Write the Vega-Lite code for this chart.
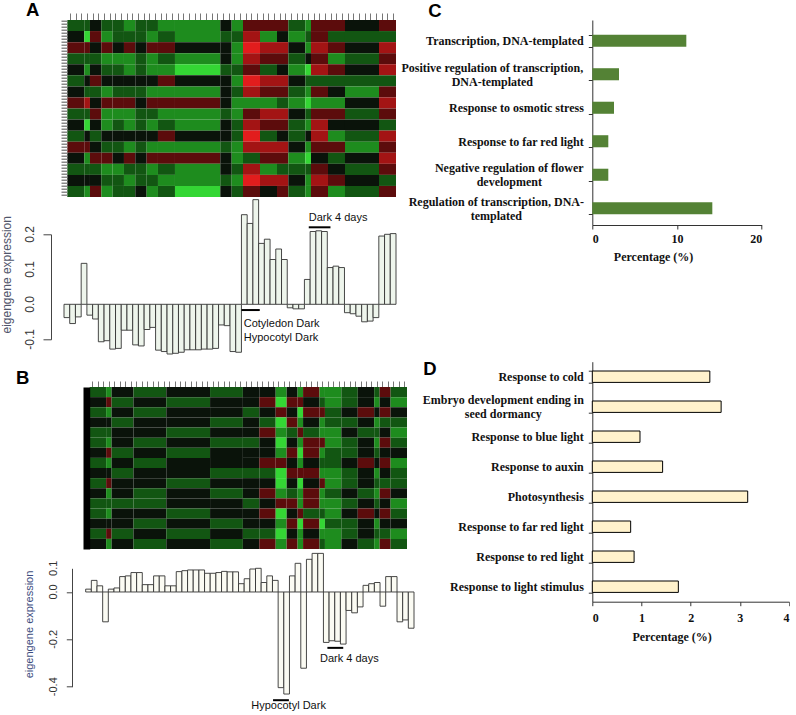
{
"$schema":"https://vega.github.io/schema/vega-lite/v6.json",
"background":"white",
"padding":{"left":0,"top":1,"right":0,"bottom":0},
"config":{"view":{"stroke":null},"axis":{"grid":false},"font":"Liberation Sans"},
"datasets":{
"ah":[
{"a":0,"b":3,"r":0,"v":-1},{"a":0,"b":3,"r":1,"v":0},{"a":0,"b":3,"r":2,"v":1},{"a":0,"b":3,"r":3,"v":-1},{"a":0,"b":3,"r":4,"v":0},{"a":0,"b":3,"r":5,"v":-1},{"a":0,"b":3,"r":6,"v":0},{"a":0,"b":3,"r":7,"v":1},{"a":0,"b":3,"r":8,"v":-1},{"a":0,"b":3,"r":9,"v":0},{"a":0,"b":3,"r":10,"v":-1},{"a":0,"b":3,"r":11,"v":1},{"a":0,"b":3,"r":12,"v":0},{"a":0,"b":3,"r":13,"v":-1},{"a":0,"b":3,"r":14,"v":0},{"a":0,"b":3,"r":15,"v":-1},
{"a":3,"b":4,"r":0,"v":-1},{"a":3,"b":4,"r":1,"v":-3},{"a":3,"b":4,"r":2,"v":1},{"a":3,"b":4,"r":3,"v":-1},{"a":3,"b":4,"r":4,"v":-2},{"a":3,"b":4,"r":5,"v":0},{"a":3,"b":4,"r":6,"v":-1},{"a":3,"b":4,"r":7,"v":2},{"a":3,"b":4,"r":8,"v":-1},{"a":3,"b":4,"r":9,"v":-3},{"a":3,"b":4,"r":10,"v":0},{"a":3,"b":4,"r":11,"v":1},{"a":3,"b":4,"r":12,"v":-2},{"a":3,"b":4,"r":13,"v":-1},{"a":3,"b":4,"r":14,"v":0},{"a":3,"b":4,"r":15,"v":-2},
{"a":4,"b":6,"r":0,"v":0},{"a":4,"b":6,"r":1,"v":1},{"a":4,"b":6,"r":2,"v":0},{"a":4,"b":6,"r":3,"v":-1},{"a":4,"b":6,"r":4,"v":0},{"a":4,"b":6,"r":5,"v":1},{"a":4,"b":6,"r":6,"v":-1},{"a":4,"b":6,"r":7,"v":0},{"a":4,"b":6,"r":8,"v":1},{"a":4,"b":6,"r":9,"v":0},{"a":4,"b":6,"r":10,"v":-1},{"a":4,"b":6,"r":11,"v":0},{"a":4,"b":6,"r":12,"v":1},{"a":4,"b":6,"r":13,"v":-1},{"a":4,"b":6,"r":14,"v":0},{"a":4,"b":6,"r":15,"v":1},
{"a":6,"b":8,"r":0,"v":-1},{"a":6,"b":8,"r":1,"v":-2},{"a":6,"b":8,"r":2,"v":1},{"a":6,"b":8,"r":3,"v":-2},{"a":6,"b":8,"r":4,"v":-1},{"a":6,"b":8,"r":5,"v":0},{"a":6,"b":8,"r":6,"v":-2},{"a":6,"b":8,"r":7,"v":1},{"a":6,"b":8,"r":8,"v":-2},{"a":6,"b":8,"r":9,"v":-2},{"a":6,"b":8,"r":10,"v":0},{"a":6,"b":8,"r":11,"v":-1},{"a":6,"b":8,"r":12,"v":1},{"a":6,"b":8,"r":13,"v":-2},{"a":6,"b":8,"r":14,"v":-1},{"a":6,"b":8,"r":15,"v":-2},
{"a":8,"b":10,"r":0,"v":-1},{"a":8,"b":10,"r":1,"v":-1},{"a":8,"b":10,"r":2,"v":0},{"a":8,"b":10,"r":3,"v":-2},{"a":8,"b":10,"r":4,"v":-1},{"a":8,"b":10,"r":5,"v":0},{"a":8,"b":10,"r":6,"v":-1},{"a":8,"b":10,"r":7,"v":1},{"a":8,"b":10,"r":8,"v":-2},{"a":8,"b":10,"r":9,"v":-1},{"a":8,"b":10,"r":10,"v":0},{"a":8,"b":10,"r":11,"v":-1},{"a":8,"b":10,"r":12,"v":0},{"a":8,"b":10,"r":13,"v":-2},{"a":8,"b":10,"r":14,"v":-1},{"a":8,"b":10,"r":15,"v":-1},
{"a":10,"b":12,"r":0,"v":-2},{"a":10,"b":12,"r":1,"v":-1},{"a":10,"b":12,"r":2,"v":1},{"a":10,"b":12,"r":3,"v":-2},{"a":10,"b":12,"r":4,"v":-2},{"a":10,"b":12,"r":5,"v":0},{"a":10,"b":12,"r":6,"v":-1},{"a":10,"b":12,"r":7,"v":1},{"a":10,"b":12,"r":8,"v":-2},{"a":10,"b":12,"r":9,"v":-2},{"a":10,"b":12,"r":10,"v":0},{"a":10,"b":12,"r":11,"v":-2},{"a":10,"b":12,"r":12,"v":1},{"a":10,"b":12,"r":13,"v":-1},{"a":10,"b":12,"r":14,"v":-2},{"a":10,"b":12,"r":15,"v":-1},
{"a":12,"b":14,"r":0,"v":-1},{"a":12,"b":14,"r":1,"v":-1},{"a":12,"b":14,"r":2,"v":0},{"a":12,"b":14,"r":3,"v":-1},{"a":12,"b":14,"r":4,"v":-1},{"a":12,"b":14,"r":5,"v":0},{"a":12,"b":14,"r":6,"v":-1},{"a":12,"b":14,"r":7,"v":0},{"a":12,"b":14,"r":8,"v":-1},{"a":12,"b":14,"r":9,"v":-1},{"a":12,"b":14,"r":10,"v":0},{"a":12,"b":14,"r":11,"v":-1},{"a":12,"b":14,"r":12,"v":0},{"a":12,"b":14,"r":13,"v":-1},{"a":12,"b":14,"r":14,"v":-1},{"a":12,"b":14,"r":15,"v":0},
{"a":14,"b":16,"r":0,"v":-1},{"a":14,"b":16,"r":1,"v":-2},{"a":14,"b":16,"r":2,"v":1},{"a":14,"b":16,"r":3,"v":-2},{"a":14,"b":16,"r":4,"v":-2},{"a":14,"b":16,"r":5,"v":0},{"a":14,"b":16,"r":6,"v":-2},{"a":14,"b":16,"r":7,"v":1},{"a":14,"b":16,"r":8,"v":-1},{"a":14,"b":16,"r":9,"v":-2},{"a":14,"b":16,"r":10,"v":0},{"a":14,"b":16,"r":11,"v":-2},{"a":14,"b":16,"r":12,"v":1},{"a":14,"b":16,"r":13,"v":-2},{"a":14,"b":16,"r":14,"v":-1},{"a":14,"b":16,"r":15,"v":-2},
{"a":16,"b":19,"r":0,"v":-2},{"a":16,"b":19,"r":1,"v":-1},{"a":16,"b":19,"r":2,"v":1},{"a":16,"b":19,"r":3,"v":-1},{"a":16,"b":19,"r":4,"v":-2},{"a":16,"b":19,"r":5,"v":1},{"a":16,"b":19,"r":6,"v":-2},{"a":16,"b":19,"r":7,"v":1},{"a":16,"b":19,"r":8,"v":-2},{"a":16,"b":19,"r":9,"v":-1},{"a":16,"b":19,"r":10,"v":1},{"a":16,"b":19,"r":11,"v":-2},{"a":16,"b":19,"r":12,"v":1},{"a":16,"b":19,"r":13,"v":-1},{"a":16,"b":19,"r":14,"v":-2},{"a":16,"b":19,"r":15,"v":-1},
{"a":19,"b":27,"r":0,"v":-2},{"a":19,"b":27,"r":1,"v":-2},{"a":19,"b":27,"r":2,"v":0},{"a":19,"b":27,"r":3,"v":-2},{"a":19,"b":27,"r":4,"v":-3},{"a":19,"b":27,"r":5,"v":0},{"a":19,"b":27,"r":6,"v":-2},{"a":19,"b":27,"r":7,"v":1},{"a":19,"b":27,"r":8,"v":-2},{"a":19,"b":27,"r":9,"v":-2},{"a":19,"b":27,"r":10,"v":0},{"a":19,"b":27,"r":11,"v":-2},{"a":19,"b":27,"r":12,"v":1},{"a":19,"b":27,"r":13,"v":-2},{"a":19,"b":27,"r":14,"v":-2},{"a":19,"b":27,"r":15,"v":-3},
{"a":27,"b":29,"r":0,"v":0},{"a":27,"b":29,"r":1,"v":-1},{"a":27,"b":29,"r":2,"v":0},{"a":27,"b":29,"r":3,"v":0},{"a":27,"b":29,"r":4,"v":-1},{"a":27,"b":29,"r":5,"v":0},{"a":27,"b":29,"r":6,"v":0},{"a":27,"b":29,"r":7,"v":0},{"a":27,"b":29,"r":8,"v":-1},{"a":27,"b":29,"r":9,"v":0},{"a":27,"b":29,"r":10,"v":0},{"a":27,"b":29,"r":11,"v":-1},{"a":27,"b":29,"r":12,"v":0},{"a":27,"b":29,"r":13,"v":0},{"a":27,"b":29,"r":14,"v":-1},{"a":27,"b":29,"r":15,"v":0},
{"a":29,"b":31,"r":0,"v":-2},{"a":29,"b":31,"r":1,"v":-1},{"a":29,"b":31,"r":2,"v":-2},{"a":29,"b":31,"r":3,"v":-2},{"a":29,"b":31,"r":4,"v":-1},{"a":29,"b":31,"r":5,"v":-2},{"a":29,"b":31,"r":6,"v":-1},{"a":29,"b":31,"r":7,"v":-2},{"a":29,"b":31,"r":8,"v":-2},{"a":29,"b":31,"r":9,"v":-1},{"a":29,"b":31,"r":10,"v":-1},{"a":29,"b":31,"r":11,"v":-2},{"a":29,"b":31,"r":12,"v":-2},{"a":29,"b":31,"r":13,"v":-1},{"a":29,"b":31,"r":14,"v":-2},{"a":29,"b":31,"r":15,"v":-1},
{"a":31,"b":34,"r":0,"v":1},{"a":31,"b":34,"r":1,"v":2},{"a":31,"b":34,"r":2,"v":3},{"a":31,"b":34,"r":3,"v":2},{"a":31,"b":34,"r":4,"v":1},{"a":31,"b":34,"r":5,"v":3},{"a":31,"b":34,"r":6,"v":2},{"a":31,"b":34,"r":7,"v":-2},{"a":31,"b":34,"r":8,"v":1},{"a":31,"b":34,"r":9,"v":2},{"a":31,"b":34,"r":10,"v":3},{"a":31,"b":34,"r":11,"v":2},{"a":31,"b":34,"r":12,"v":-1},{"a":31,"b":34,"r":13,"v":2},{"a":31,"b":34,"r":14,"v":3},{"a":31,"b":34,"r":15,"v":1},
{"a":34,"b":37,"r":0,"v":1},{"a":34,"b":37,"r":1,"v":-2},{"a":34,"b":37,"r":2,"v":2},{"a":34,"b":37,"r":3,"v":1},{"a":34,"b":37,"r":4,"v":-1},{"a":34,"b":37,"r":5,"v":2},{"a":34,"b":37,"r":6,"v":1},{"a":34,"b":37,"r":7,"v":-2},{"a":34,"b":37,"r":8,"v":2},{"a":34,"b":37,"r":9,"v":1},{"a":34,"b":37,"r":10,"v":-1},{"a":34,"b":37,"r":11,"v":2},{"a":34,"b":37,"r":12,"v":1},{"a":34,"b":37,"r":13,"v":-2},{"a":34,"b":37,"r":14,"v":2},{"a":34,"b":37,"r":15,"v":0},
{"a":37,"b":39,"r":0,"v":1},{"a":37,"b":39,"r":1,"v":0},{"a":37,"b":39,"r":2,"v":2},{"a":37,"b":39,"r":3,"v":1},{"a":37,"b":39,"r":4,"v":0},{"a":37,"b":39,"r":5,"v":2},{"a":37,"b":39,"r":6,"v":1},{"a":37,"b":39,"r":7,"v":-1},{"a":37,"b":39,"r":8,"v":2},{"a":37,"b":39,"r":9,"v":1},{"a":37,"b":39,"r":10,"v":0},{"a":37,"b":39,"r":11,"v":2},{"a":37,"b":39,"r":12,"v":1},{"a":37,"b":39,"r":13,"v":-1},{"a":37,"b":39,"r":14,"v":2},{"a":37,"b":39,"r":15,"v":1},
{"a":39,"b":42,"r":0,"v":-1},{"a":39,"b":42,"r":1,"v":-2},{"a":39,"b":42,"r":2,"v":0},{"a":39,"b":42,"r":3,"v":-1},{"a":39,"b":42,"r":4,"v":-2},{"a":39,"b":42,"r":5,"v":0},{"a":39,"b":42,"r":6,"v":-1},{"a":39,"b":42,"r":7,"v":-2},{"a":39,"b":42,"r":8,"v":0},{"a":39,"b":42,"r":9,"v":-1},{"a":39,"b":42,"r":10,"v":-1},{"a":39,"b":42,"r":11,"v":0},{"a":39,"b":42,"r":12,"v":-2},{"a":39,"b":42,"r":13,"v":-1},{"a":39,"b":42,"r":14,"v":0},{"a":39,"b":42,"r":15,"v":-1},
{"a":42,"b":43,"r":0,"v":-2},{"a":42,"b":43,"r":1,"v":-1},{"a":42,"b":43,"r":2,"v":-2},{"a":42,"b":43,"r":3,"v":0},{"a":42,"b":43,"r":4,"v":-3},{"a":42,"b":43,"r":5,"v":-1},{"a":42,"b":43,"r":6,"v":-2},{"a":42,"b":43,"r":7,"v":-3},{"a":42,"b":43,"r":8,"v":-1},{"a":42,"b":43,"r":9,"v":-2},{"a":42,"b":43,"r":10,"v":0},{"a":42,"b":43,"r":11,"v":-2},{"a":42,"b":43,"r":12,"v":-3},{"a":42,"b":43,"r":13,"v":-1},{"a":42,"b":43,"r":14,"v":-2},{"a":42,"b":43,"r":15,"v":-2},
{"a":43,"b":46,"r":0,"v":1},{"a":43,"b":46,"r":1,"v":1},{"a":43,"b":46,"r":2,"v":2},{"a":43,"b":46,"r":3,"v":1},{"a":43,"b":46,"r":4,"v":2},{"a":43,"b":46,"r":5,"v":-1},{"a":43,"b":46,"r":6,"v":1},{"a":43,"b":46,"r":7,"v":-2},{"a":43,"b":46,"r":8,"v":1},{"a":43,"b":46,"r":9,"v":2},{"a":43,"b":46,"r":10,"v":2},{"a":43,"b":46,"r":11,"v":1},{"a":43,"b":46,"r":12,"v":0},{"a":43,"b":46,"r":13,"v":1},{"a":43,"b":46,"r":14,"v":2},{"a":43,"b":46,"r":15,"v":1},
{"a":46,"b":49,"r":0,"v":1},{"a":46,"b":49,"r":1,"v":-1},{"a":46,"b":49,"r":2,"v":1},{"a":46,"b":49,"r":3,"v":-2},{"a":46,"b":49,"r":4,"v":1},{"a":46,"b":49,"r":5,"v":-1},{"a":46,"b":49,"r":6,"v":0},{"a":46,"b":49,"r":7,"v":-2},{"a":46,"b":49,"r":8,"v":1},{"a":46,"b":49,"r":9,"v":0},{"a":46,"b":49,"r":10,"v":-2},{"a":46,"b":49,"r":11,"v":1},{"a":46,"b":49,"r":12,"v":-1},{"a":46,"b":49,"r":13,"v":0},{"a":46,"b":49,"r":14,"v":1},{"a":46,"b":49,"r":15,"v":-2},
{"a":49,"b":55,"r":0,"v":0},{"a":49,"b":55,"r":1,"v":-1},{"a":49,"b":55,"r":2,"v":0},{"a":49,"b":55,"r":3,"v":-1},{"a":49,"b":55,"r":4,"v":0},{"a":49,"b":55,"r":5,"v":-1},{"a":49,"b":55,"r":6,"v":-2},{"a":49,"b":55,"r":7,"v":0},{"a":49,"b":55,"r":8,"v":-1},{"a":49,"b":55,"r":9,"v":0},{"a":49,"b":55,"r":10,"v":-1},{"a":49,"b":55,"r":11,"v":-2},{"a":49,"b":55,"r":12,"v":0},{"a":49,"b":55,"r":13,"v":-1},{"a":49,"b":55,"r":14,"v":0},{"a":49,"b":55,"r":15,"v":-1},
{"a":55,"b":58,"r":0,"v":1},{"a":55,"b":58,"r":1,"v":-1},{"a":55,"b":58,"r":2,"v":2},{"a":55,"b":58,"r":3,"v":1},{"a":55,"b":58,"r":4,"v":2},{"a":55,"b":58,"r":5,"v":-1},{"a":55,"b":58,"r":6,"v":1},{"a":55,"b":58,"r":7,"v":2},{"a":55,"b":58,"r":8,"v":1},{"a":55,"b":58,"r":9,"v":-1},{"a":55,"b":58,"r":10,"v":2},{"a":55,"b":58,"r":11,"v":1},{"a":55,"b":58,"r":12,"v":2},{"a":55,"b":58,"r":13,"v":1},{"a":55,"b":58,"r":14,"v":-1},{"a":55,"b":58,"r":15,"v":1}
],
"bh":[
{"a":0,"b":3,"r":0,"v":-1},{"a":0,"b":3,"r":1,"v":0},{"a":0,"b":3,"r":2,"v":-1},{"a":0,"b":3,"r":3,"v":0},{"a":0,"b":3,"r":4,"v":-1},{"a":0,"b":3,"r":5,"v":-1},{"a":0,"b":3,"r":6,"v":0},{"a":0,"b":3,"r":7,"v":-1},{"a":0,"b":3,"r":8,"v":0},{"a":0,"b":3,"r":9,"v":-1},{"a":0,"b":3,"r":10,"v":0},{"a":0,"b":3,"r":11,"v":-1},{"a":0,"b":3,"r":12,"v":-1},{"a":0,"b":3,"r":13,"v":0},{"a":0,"b":3,"r":14,"v":-1},{"a":0,"b":3,"r":15,"v":0},
{"a":3,"b":4,"r":0,"v":-2},{"a":3,"b":4,"r":1,"v":1},{"a":3,"b":4,"r":2,"v":-2},{"a":3,"b":4,"r":3,"v":0},{"a":3,"b":4,"r":4,"v":-1},{"a":3,"b":4,"r":5,"v":-2},{"a":3,"b":4,"r":6,"v":1},{"a":3,"b":4,"r":7,"v":-2},{"a":3,"b":4,"r":8,"v":0},{"a":3,"b":4,"r":9,"v":1},{"a":3,"b":4,"r":10,"v":-2},{"a":3,"b":4,"r":11,"v":-1},{"a":3,"b":4,"r":12,"v":-2},{"a":3,"b":4,"r":13,"v":0},{"a":3,"b":4,"r":14,"v":1},{"a":3,"b":4,"r":15,"v":-2},
{"a":4,"b":8,"r":0,"v":0},{"a":4,"b":8,"r":1,"v":-1},{"a":4,"b":8,"r":2,"v":0},{"a":4,"b":8,"r":3,"v":-1},{"a":4,"b":8,"r":4,"v":0},{"a":4,"b":8,"r":5,"v":0},{"a":4,"b":8,"r":6,"v":-1},{"a":4,"b":8,"r":7,"v":0},{"a":4,"b":8,"r":8,"v":-1},{"a":4,"b":8,"r":9,"v":0},{"a":4,"b":8,"r":10,"v":0},{"a":4,"b":8,"r":11,"v":-1},{"a":4,"b":8,"r":12,"v":0},{"a":4,"b":8,"r":13,"v":0},{"a":4,"b":8,"r":14,"v":-1},{"a":4,"b":8,"r":15,"v":0},
{"a":8,"b":14,"r":0,"v":-1},{"a":8,"b":14,"r":1,"v":0},{"a":8,"b":14,"r":2,"v":-1},{"a":8,"b":14,"r":3,"v":0},{"a":8,"b":14,"r":4,"v":0},{"a":8,"b":14,"r":5,"v":-1},{"a":8,"b":14,"r":6,"v":0},{"a":8,"b":14,"r":7,"v":-1},{"a":8,"b":14,"r":8,"v":0},{"a":8,"b":14,"r":9,"v":0},{"a":8,"b":14,"r":10,"v":-1},{"a":8,"b":14,"r":11,"v":-1},{"a":8,"b":14,"r":12,"v":0},{"a":8,"b":14,"r":13,"v":-1},{"a":8,"b":14,"r":14,"v":0},{"a":8,"b":14,"r":15,"v":-1},
{"a":14,"b":22,"r":0,"v":0},{"a":14,"b":22,"r":1,"v":-1},{"a":14,"b":22,"r":2,"v":0},{"a":14,"b":22,"r":3,"v":0},{"a":14,"b":22,"r":4,"v":-1},{"a":14,"b":22,"r":5,"v":0},{"a":14,"b":22,"r":6,"v":-1},{"a":14,"b":22,"r":7,"v":0},{"a":14,"b":22,"r":8,"v":0},{"a":14,"b":22,"r":9,"v":-1},{"a":14,"b":22,"r":10,"v":0},{"a":14,"b":22,"r":11,"v":0},{"a":14,"b":22,"r":12,"v":-1},{"a":14,"b":22,"r":13,"v":0},{"a":14,"b":22,"r":14,"v":-1},{"a":14,"b":22,"r":15,"v":0},
{"a":22,"b":28,"r":0,"v":-1},{"a":22,"b":28,"r":1,"v":0},{"a":22,"b":28,"r":2,"v":0},{"a":22,"b":28,"r":3,"v":-1},{"a":22,"b":28,"r":4,"v":0},{"a":22,"b":28,"r":5,"v":-1},{"a":22,"b":28,"r":6,"v":0},{"a":22,"b":28,"r":7,"v":0},{"a":22,"b":28,"r":8,"v":-1},{"a":22,"b":28,"r":9,"v":0},{"a":22,"b":28,"r":10,"v":-1},{"a":22,"b":28,"r":11,"v":0},{"a":22,"b":28,"r":12,"v":0},{"a":22,"b":28,"r":13,"v":-1},{"a":22,"b":28,"r":14,"v":0},{"a":22,"b":28,"r":15,"v":-1},
{"a":28,"b":31,"r":0,"v":0},{"a":28,"b":31,"r":1,"v":0},{"a":28,"b":31,"r":2,"v":-1},{"a":28,"b":31,"r":3,"v":0},{"a":28,"b":31,"r":4,"v":0},{"a":28,"b":31,"r":5,"v":-1},{"a":28,"b":31,"r":6,"v":0},{"a":28,"b":31,"r":7,"v":0},{"a":28,"b":31,"r":8,"v":-1},{"a":28,"b":31,"r":9,"v":0},{"a":28,"b":31,"r":10,"v":0},{"a":28,"b":31,"r":11,"v":-1},{"a":28,"b":31,"r":12,"v":0},{"a":28,"b":31,"r":13,"v":0},{"a":28,"b":31,"r":14,"v":-1},{"a":28,"b":31,"r":15,"v":0},
{"a":31,"b":34,"r":0,"v":0},{"a":31,"b":34,"r":1,"v":1},{"a":31,"b":34,"r":2,"v":0},{"a":31,"b":34,"r":3,"v":-1},{"a":31,"b":34,"r":4,"v":1},{"a":31,"b":34,"r":5,"v":0},{"a":31,"b":34,"r":6,"v":0},{"a":31,"b":34,"r":7,"v":1},{"a":31,"b":34,"r":8,"v":-1},{"a":31,"b":34,"r":9,"v":0},{"a":31,"b":34,"r":10,"v":1},{"a":31,"b":34,"r":11,"v":0},{"a":31,"b":34,"r":12,"v":1},{"a":31,"b":34,"r":13,"v":0},{"a":31,"b":34,"r":14,"v":-1},{"a":31,"b":34,"r":15,"v":1},
{"a":34,"b":36,"r":0,"v":-2},{"a":34,"b":36,"r":1,"v":-3},{"a":34,"b":36,"r":2,"v":1},{"a":34,"b":36,"r":3,"v":-3},{"a":34,"b":36,"r":4,"v":-2},{"a":34,"b":36,"r":5,"v":-3},{"a":34,"b":36,"r":6,"v":-2},{"a":34,"b":36,"r":7,"v":1},{"a":34,"b":36,"r":8,"v":-3},{"a":34,"b":36,"r":9,"v":-3},{"a":34,"b":36,"r":10,"v":-2},{"a":34,"b":36,"r":11,"v":1},{"a":34,"b":36,"r":12,"v":-3},{"a":34,"b":36,"r":13,"v":-2},{"a":34,"b":36,"r":14,"v":-3},{"a":34,"b":36,"r":15,"v":-2},
{"a":36,"b":38,"r":0,"v":0},{"a":36,"b":38,"r":1,"v":1},{"a":36,"b":38,"r":2,"v":0},{"a":36,"b":38,"r":3,"v":1},{"a":36,"b":38,"r":4,"v":-1},{"a":36,"b":38,"r":5,"v":0},{"a":36,"b":38,"r":6,"v":1},{"a":36,"b":38,"r":7,"v":0},{"a":36,"b":38,"r":8,"v":1},{"a":36,"b":38,"r":9,"v":0},{"a":36,"b":38,"r":10,"v":-1},{"a":36,"b":38,"r":11,"v":1},{"a":36,"b":38,"r":12,"v":0},{"a":36,"b":38,"r":13,"v":1},{"a":36,"b":38,"r":14,"v":0},{"a":36,"b":38,"r":15,"v":1},
{"a":38,"b":39,"r":0,"v":-2},{"a":38,"b":39,"r":1,"v":1},{"a":38,"b":39,"r":2,"v":-3},{"a":38,"b":39,"r":3,"v":-2},{"a":38,"b":39,"r":4,"v":1},{"a":38,"b":39,"r":5,"v":-2},{"a":38,"b":39,"r":6,"v":-3},{"a":38,"b":39,"r":7,"v":-2},{"a":38,"b":39,"r":8,"v":1},{"a":38,"b":39,"r":9,"v":-3},{"a":38,"b":39,"r":10,"v":-2},{"a":38,"b":39,"r":11,"v":-2},{"a":38,"b":39,"r":12,"v":1},{"a":38,"b":39,"r":13,"v":-3},{"a":38,"b":39,"r":14,"v":-2},{"a":38,"b":39,"r":15,"v":-2},
{"a":39,"b":42,"r":0,"v":1},{"a":39,"b":42,"r":1,"v":0},{"a":39,"b":42,"r":2,"v":1},{"a":39,"b":42,"r":3,"v":0},{"a":39,"b":42,"r":4,"v":-1},{"a":39,"b":42,"r":5,"v":1},{"a":39,"b":42,"r":6,"v":1},{"a":39,"b":42,"r":7,"v":0},{"a":39,"b":42,"r":8,"v":1},{"a":39,"b":42,"r":9,"v":0},{"a":39,"b":42,"r":10,"v":1},{"a":39,"b":42,"r":11,"v":1},{"a":39,"b":42,"r":12,"v":-1},{"a":39,"b":42,"r":13,"v":1},{"a":39,"b":42,"r":14,"v":0},{"a":39,"b":42,"r":15,"v":1},
{"a":42,"b":43,"r":0,"v":-2},{"a":42,"b":43,"r":1,"v":-1},{"a":42,"b":43,"r":2,"v":1},{"a":42,"b":43,"r":3,"v":-2},{"a":42,"b":43,"r":4,"v":-2},{"a":42,"b":43,"r":5,"v":1},{"a":42,"b":43,"r":6,"v":-2},{"a":42,"b":43,"r":7,"v":-1},{"a":42,"b":43,"r":8,"v":-2},{"a":42,"b":43,"r":9,"v":1},{"a":42,"b":43,"r":10,"v":-2},{"a":42,"b":43,"r":11,"v":-2},{"a":42,"b":43,"r":12,"v":-1},{"a":42,"b":43,"r":13,"v":-3},{"a":42,"b":43,"r":14,"v":-2},{"a":42,"b":43,"r":15,"v":-1},
{"a":43,"b":46,"r":0,"v":-2},{"a":43,"b":46,"r":1,"v":-2},{"a":43,"b":46,"r":2,"v":-1},{"a":43,"b":46,"r":3,"v":-1},{"a":43,"b":46,"r":4,"v":-2},{"a":43,"b":46,"r":5,"v":-2},{"a":43,"b":46,"r":6,"v":-1},{"a":43,"b":46,"r":7,"v":-1},{"a":43,"b":46,"r":8,"v":-2},{"a":43,"b":46,"r":9,"v":-2},{"a":43,"b":46,"r":10,"v":-1},{"a":43,"b":46,"r":11,"v":-2},{"a":43,"b":46,"r":12,"v":-2},{"a":43,"b":46,"r":13,"v":-1},{"a":43,"b":46,"r":14,"v":-2},{"a":43,"b":46,"r":15,"v":-2},
{"a":46,"b":49,"r":0,"v":-1},{"a":46,"b":49,"r":1,"v":-1},{"a":46,"b":49,"r":2,"v":0},{"a":46,"b":49,"r":3,"v":-1},{"a":46,"b":49,"r":4,"v":0},{"a":46,"b":49,"r":5,"v":-1},{"a":46,"b":49,"r":6,"v":-1},{"a":46,"b":49,"r":7,"v":0},{"a":46,"b":49,"r":8,"v":-1},{"a":46,"b":49,"r":9,"v":-1},{"a":46,"b":49,"r":10,"v":0},{"a":46,"b":49,"r":11,"v":-1},{"a":46,"b":49,"r":12,"v":0},{"a":46,"b":49,"r":13,"v":-1},{"a":46,"b":49,"r":14,"v":-1},{"a":46,"b":49,"r":15,"v":0},
{"a":49,"b":52,"r":0,"v":0},{"a":49,"b":52,"r":1,"v":0},{"a":49,"b":52,"r":2,"v":1},{"a":49,"b":52,"r":3,"v":0},{"a":49,"b":52,"r":4,"v":-1},{"a":49,"b":52,"r":5,"v":0},{"a":49,"b":52,"r":6,"v":0},{"a":49,"b":52,"r":7,"v":1},{"a":49,"b":52,"r":8,"v":0},{"a":49,"b":52,"r":9,"v":0},{"a":49,"b":52,"r":10,"v":-1},{"a":49,"b":52,"r":11,"v":0},{"a":49,"b":52,"r":12,"v":1},{"a":49,"b":52,"r":13,"v":0},{"a":49,"b":52,"r":14,"v":0},{"a":49,"b":52,"r":15,"v":-1},
{"a":52,"b":53,"r":0,"v":-1},{"a":52,"b":53,"r":1,"v":-2},{"a":52,"b":53,"r":2,"v":0},{"a":52,"b":53,"r":3,"v":-2},{"a":52,"b":53,"r":4,"v":-1},{"a":52,"b":53,"r":5,"v":-2},{"a":52,"b":53,"r":6,"v":-1},{"a":52,"b":53,"r":7,"v":0},{"a":52,"b":53,"r":8,"v":-2},{"a":52,"b":53,"r":9,"v":-1},{"a":52,"b":53,"r":10,"v":-2},{"a":52,"b":53,"r":11,"v":-1},{"a":52,"b":53,"r":12,"v":0},{"a":52,"b":53,"r":13,"v":-2},{"a":52,"b":53,"r":14,"v":-1},{"a":52,"b":53,"r":15,"v":-2},
{"a":53,"b":55,"r":0,"v":1},{"a":53,"b":55,"r":1,"v":0},{"a":53,"b":55,"r":2,"v":1},{"a":53,"b":55,"r":3,"v":-1},{"a":53,"b":55,"r":4,"v":0},{"a":53,"b":55,"r":5,"v":1},{"a":53,"b":55,"r":6,"v":0},{"a":53,"b":55,"r":7,"v":1},{"a":53,"b":55,"r":8,"v":0},{"a":53,"b":55,"r":9,"v":-1},{"a":53,"b":55,"r":10,"v":1},{"a":53,"b":55,"r":11,"v":0},{"a":53,"b":55,"r":12,"v":1},{"a":53,"b":55,"r":13,"v":0},{"a":53,"b":55,"r":14,"v":-1},{"a":53,"b":55,"r":15,"v":1},
{"a":55,"b":58,"r":0,"v":-1},{"a":55,"b":58,"r":1,"v":-2},{"a":55,"b":58,"r":2,"v":0},{"a":55,"b":58,"r":3,"v":-1},{"a":55,"b":58,"r":4,"v":-2},{"a":55,"b":58,"r":5,"v":-1},{"a":55,"b":58,"r":6,"v":0},{"a":55,"b":58,"r":7,"v":-2},{"a":55,"b":58,"r":8,"v":-1},{"a":55,"b":58,"r":9,"v":-1},{"a":55,"b":58,"r":10,"v":0},{"a":55,"b":58,"r":11,"v":-2},{"a":55,"b":58,"r":12,"v":-1},{"a":55,"b":58,"r":13,"v":0},{"a":55,"b":58,"r":14,"v":-2},{"a":55,"b":58,"r":15,"v":-1}
],
"ab":[
{"i":0,"j":1,"v":-0.038},{"i":1,"j":2,"v":-0.055},{"i":2,"j":3,"v":-0.036},{"i":3,"j":4,"v":0.117},{"i":4,"j":5,"v":-0.031},{"i":5,"j":6,"v":-0.042},{"i":6,"j":7,"v":-0.107},{"i":7,"j":8,"v":-0.104},{"i":8,"j":9,"v":-0.128},{"i":9,"j":10,"v":-0.126},
{"i":10,"j":11,"v":-0.074},{"i":11,"j":12,"v":-0.074},{"i":12,"j":13,"v":-0.116},{"i":13,"j":14,"v":-0.119},{"i":14,"j":15,"v":-0.072},{"i":15,"j":16,"v":-0.066},{"i":16,"j":17,"v":-0.131},{"i":17,"j":18,"v":-0.135},{"i":18,"j":19,"v":-0.142},{"i":19,"j":20,"v":-0.14},
{"i":20,"j":21,"v":-0.137},{"i":21,"j":22,"v":-0.13},{"i":22,"j":23,"v":-0.13},{"i":23,"j":24,"v":-0.13},{"i":24,"j":25,"v":-0.128},{"i":25,"j":26,"v":-0.128},{"i":26,"j":27,"v":-0.126},{"i":27,"j":28,"v":-0.059},{"i":28,"j":29,"v":-0.061},{"i":29,"j":30,"v":-0.135},
{"i":30,"j":31,"v":-0.137},{"i":31,"j":32,"v":0.256},{"i":32,"j":33,"v":0.231},{"i":33,"j":34,"v":0.299},{"i":34,"j":35,"v":0.174},{"i":35,"j":36,"v":0.186},{"i":36,"j":37,"v":0.128},{"i":37,"j":38,"v":0.158},{"i":38,"j":39,"v":0.128},{"i":39,"j":40,"v":-0.01},
{"i":40,"j":41,"v":-0.013},{"i":41,"j":42,"v":-0.013},{"i":42,"j":43,"v":0.071},{"i":43,"j":44,"v":0.208},{"i":44,"j":45,"v":0.21},{"i":45,"j":46,"v":0.208},{"i":46,"j":47,"v":0.105},{"i":47,"j":48,"v":0.109},{"i":48,"j":49,"v":0.105},{"i":49,"j":50,"v":-0.024},
{"i":50,"j":51,"v":-0.027},{"i":51,"j":52,"v":-0.034},{"i":52,"j":53,"v":-0.05},{"i":53,"j":54,"v":-0.048},{"i":54,"j":55,"v":-0.038},{"i":55,"j":56,"v":0.195},{"i":56,"j":57,"v":0.2},{"i":57,"j":58,"v":0.202}
],
"bb":[
{"i":0,"j":1,"v":0.012},{"i":1,"j":2,"v":0.049},{"i":2,"j":3,"v":0.026},{"i":3,"j":4,"v":-0.126},{"i":4,"j":5,"v":0.012},{"i":5,"j":6,"v":0.017},{"i":6,"j":7,"v":0.065},{"i":7,"j":8,"v":0.068},{"i":8,"j":9,"v":0.082},{"i":9,"j":10,"v":0.082},
{"i":10,"j":11,"v":0.031},{"i":11,"j":12,"v":0.031},{"i":12,"j":13,"v":0.068},{"i":13,"j":14,"v":0.068},{"i":14,"j":15,"v":0.026},{"i":15,"j":16,"v":0.026},{"i":16,"j":17,"v":0.086},{"i":17,"j":18,"v":0.09},{"i":18,"j":19,"v":0.093},{"i":19,"j":20,"v":0.093},
{"i":20,"j":21,"v":0.093},{"i":21,"j":22,"v":0.079},{"i":22,"j":23,"v":0.079},{"i":23,"j":24,"v":0.082},{"i":24,"j":25,"v":0.087},{"i":25,"j":26,"v":0.085},{"i":26,"j":27,"v":0.085},{"i":27,"j":28,"v":0.035},{"i":28,"j":29,"v":0.056},{"i":29,"j":30,"v":0.097},
{"i":30,"j":31,"v":0.1},{"i":31,"j":32,"v":0.04},{"i":32,"j":33,"v":0.068},{"i":33,"j":34,"v":0.049},{"i":34,"j":35,"v":-0.404},{"i":35,"j":36,"v":-0.431},{"i":36,"j":37,"v":0.068},{"i":37,"j":38,"v":0.121},{"i":38,"j":39,"v":-0.322},{"i":39,"j":40,"v":0.138},
{"i":40,"j":41,"v":0.163},{"i":41,"j":42,"v":0.163},{"i":42,"j":43,"v":-0.213},{"i":43,"j":44,"v":-0.206},{"i":44,"j":45,"v":-0.208},{"i":45,"j":46,"v":-0.22},{"i":46,"j":47,"v":-0.078},{"i":47,"j":48,"v":-0.088},{"i":48,"j":49,"v":-0.063},{"i":49,"j":50,"v":0.028},
{"i":50,"j":51,"v":0.035},{"i":51,"j":52,"v":0.04},{"i":52,"j":53,"v":-0.06},{"i":53,"j":54,"v":0.065},{"i":54,"j":55,"v":0.065},{"i":55,"j":56,"v":-0.126},{"i":56,"j":57,"v":-0.118},{"i":57,"j":58,"v":-0.153}
]
},
"hconcat":[
{"vconcat":[
 {"vconcat":[
  {"width":332,"height":177,
   "title":{"text":"A","anchor":"start","frame":"group","dx":-38,"dy":7,"offset":0,"fontSize":18.5,"font":"Liberation Sans","fontWeight":"bold","color":"#000"},
   "data":{"name":"ah"},
   "mark":{"type":"rect"},
   "encoding":{
    "x":{"field":"a","type":"quantitative","scale":{"domain":[-0.58,58],"nice":false,"zero":false},
         "axis":{"orient":"top","values":[0.5,1.5,2.5,3.5,4.5,5.5,6.5,7.5,8.5,9.5,10.5,11.5,12.5,13.5,14.5,15.5,16.5,17.5,18.5,19.5,20.5,21.5,22.5,23.5,24.5,25.5,26.5,27.5,28.5,29.5,30.5,31.5,32.5,33.5,34.5,35.5,36.5,37.5,38.5,39.5,40.5,41.5,42.5,43.5,44.5,45.5,46.5,47.5,48.5,49.5,50.5,51.5,52.5,53.5,54.5,55.5,56.5,57.5],"labels":false,"domain":false,"tickSize":7,"tickColor":"#777","tickWidth":1,"title":null}},
    "x2":{"field":"b"},
    "y":{"field":"r","type":"ordinal","scale":{"paddingInner":0,"paddingOuter":0},
         "axis":{"labels":false,"ticks":false,"title":null,"domainColor":"#8a8a8a","domainWidth":6,"domainDash":[1.5,1.5]}},
    "fill":{"field":"v","type":"ordinal","scale":{"domain":[-3,-2,-1,0,1,2,3],"range":["#34d634","#1e8c1e","#125612","#0a130a","#5c0c0c","#a31414","#e21d1d"]},"legend":null}
   }
  },
  {"width":332,"height":105,
   "layer":[
    {"data":{"name":"ab"},
     "mark":{"type":"rect","fill":"#eef5ec","stroke":"#333","strokeWidth":0.9},
     "encoding":{
      "x":{"field":"i","type":"quantitative","scale":{"domain":[0,58],"nice":false,"zero":false},"axis":null},
      "x2":{"field":"j"},
      "y":{"field":"v","type":"quantitative","scale":{"domain":[-0.1,0.2],"nice":false,"zero":false},
           "axis":{"values":[-0.1,0,0.1,0.2],"labels":false,"tickSize":8,"tickColor":"#444","domainColor":"#444","offset":13,
                   "title":"eigengene expression","titleFont":"Liberation Sans","titleFontSize":12,"titleFontWeight":"normal","titleColor":"#50556a","titleAngle":-90,"titleX":-44.5,"titleY":40,"titleAlign":"center","titleBaseline":"middle"}},
      "y2":{"datum":0}
     }},
    {"data":{"values":[{}]},"mark":{"type":"text","text":"-0.1","angle":270,"align":"center","baseline":"middle","fontSize":12,"font":"Liberation Sans","color":"#333"},"encoding":{"x":{"datum":-5.94},"y":{"datum":-0.1}}},
    {"data":{"values":[{}]},"mark":{"type":"text","text":"0.0","angle":270,"align":"center","baseline":"middle","fontSize":12,"font":"Liberation Sans","color":"#333"},"encoding":{"x":{"datum":-5.94},"y":{"datum":0}}},
    {"data":{"values":[{}]},"mark":{"type":"text","text":"0.1","angle":270,"align":"center","baseline":"middle","fontSize":12,"font":"Liberation Sans","color":"#333"},"encoding":{"x":{"datum":-5.94},"y":{"datum":0.1}}},
    {"data":{"values":[{}]},"mark":{"type":"text","text":"0.2","angle":270,"align":"center","baseline":"middle","fontSize":12,"font":"Liberation Sans","color":"#333"},"encoding":{"x":{"datum":-5.94},"y":{"datum":0.2}}},
    {"data":{"values":[{}]},"mark":{"type":"text","text":"Dark 4 days","align":"left","baseline":"alphabetic","fontSize":11,"font":"Liberation Sans","color":"#111"},
     "encoding":{"x":{"datum":42.76},"y":{"datum":0.239}}},
    {"data":{"values":[{}]},"mark":{"type":"rule","strokeWidth":2,"color":"#000"},
     "encoding":{"x":{"datum":42.76},"x2":{"datum":46.55},"y":{"datum":0.22}}},
    {"data":{"values":[{}]},"mark":{"type":"rule","strokeWidth":2,"color":"#000"},
     "encoding":{"x":{"datum":31.0},"x2":{"datum":34.2},"y":{"datum":-0.0164}}},
    {"data":{"values":[{}]},"mark":{"type":"text","text":"Cotyledon Dark","align":"left","baseline":"alphabetic","fontSize":11,"font":"Liberation Sans","color":"#111"},
     "encoding":{"x":{"datum":31.4},"y":{"datum":-0.064}}},
    {"data":{"values":[{}]},"mark":{"type":"text","text":"Hypocotyl Dark","align":"left","baseline":"alphabetic","fontSize":11,"font":"Liberation Sans","color":"#111"},
     "encoding":{"x":{"datum":31.4},"y":{"datum":-0.1046}}}
   ]
  }
 ],"spacing":37.3,"bounds":"flush","resolve":{"scale":{"x":"independent","y":"independent"}}},
 {"vconcat":[
  {"width":343,"height":162,
   "title":{"text":"B","anchor":"start","frame":"group","dx":-48,"dy":7,"offset":0,"fontSize":18.5,"font":"Liberation Sans","fontWeight":"bold","color":"#000"},
   "data":{"name":"bh"},
   "mark":{"type":"rect"},
   "encoding":{
    "x":{"field":"a","type":"quantitative","scale":{"domain":[-4.7,58],"nice":false,"zero":false},
         "axis":{"orient":"top","values":[0.5,1.5,2.5,3.5,4.5,5.5,6.5,7.5,8.5,9.5,10.5,11.5,12.5,13.5,14.5,15.5,16.5,17.5,18.5,19.5,20.5,21.5,22.5,23.5,24.5,25.5,26.5,27.5,28.5,29.5,30.5,31.5,32.5,33.5,34.5,35.5,36.5,37.5,38.5,39.5,40.5,41.5,42.5,43.5,44.5,45.5,46.5,47.5,48.5,49.5,50.5,51.5,52.5,53.5,54.5,55.5,56.5,57.5],"labels":false,"domain":false,"tickSize":6,"tickColor":"#777","tickWidth":1,"title":null}},
    "x2":{"field":"b"},
    "y":{"field":"r","type":"ordinal","scale":{"paddingInner":0,"paddingOuter":0},
         "axis":{"labels":false,"ticks":false,"title":null,"domainColor":"#000","domainWidth":6.7,"offset":-22.35}},
    "fill":{"field":"v","type":"ordinal","scale":{"domain":[-3,-2,-1,0,1,2,3],"range":["#34d634","#1e8c1e","#125612","#0a130a","#5c0c0c","#a31414","#e21d1d"]},"legend":null}
   }
  },
  {"width":350,"height":118.4,
   "layer":[
    {"data":{"name":"bb"},
     "mark":{"type":"rect","fill":"#fbfbf3","stroke":"#333","strokeWidth":0.9},
     "encoding":{
      "x":{"field":"i","type":"quantitative","scale":{"domain":[-3.83,58],"nice":false,"zero":false},"axis":null},
      "x2":{"field":"j"},
      "y":{"field":"v","type":"quantitative","scale":{"domain":[-0.4,0.1],"nice":false,"zero":false},
           "axis":{"values":[-0.4,-0.3,-0.2,-0.1,0,0.1],"labels":false,"tickSize":5.7,"tickColor":"#444","domainColor":"#444","offset":-8,
                   "title":"eigengene expression","titleFont":"Liberation Sans","titleFontSize":11,"titleFontWeight":"normal","titleColor":"#3d4d80","titleAngle":-90,"titleX":-42.2,"titleY":55.7,"titleAlign":"center","titleBaseline":"middle"}},
      "y2":{"datum":0}
     }},
    {"data":{"values":[{}]},"mark":{"type":"text","text":"0.1","angle":270,"align":"center","baseline":"middle","fontSize":11,"font":"Liberation Sans","color":"#333"},"encoding":{"x":{"datum":-5.6},"y":{"datum":0.1}}},
    {"data":{"values":[{}]},"mark":{"type":"text","text":"0.0","angle":270,"align":"center","baseline":"middle","fontSize":11,"font":"Liberation Sans","color":"#333"},"encoding":{"x":{"datum":-5.6},"y":{"datum":0}}},
    {"data":{"values":[{}]},"mark":{"type":"text","text":"-0.2","angle":270,"align":"center","baseline":"middle","fontSize":11,"font":"Liberation Sans","color":"#333"},"encoding":{"x":{"datum":-5.6},"y":{"datum":-0.2}}},
    {"data":{"values":[{}]},"mark":{"type":"text","text":"-0.4","angle":270,"align":"center","baseline":"middle","fontSize":11,"font":"Liberation Sans","color":"#333"},"encoding":{"x":{"datum":-5.6},"y":{"datum":-0.4}}},
    {"data":{"values":[{}]},"mark":{"type":"rule","strokeWidth":2,"color":"#000"},
     "encoding":{"x":{"datum":33.1},"x2":{"datum":35.9},"y":{"datum":-0.457}}},
    {"data":{"values":[{}]},"mark":{"type":"text","text":"Hypocotyl Dark","align":"left","baseline":"alphabetic","fontSize":11,"font":"Liberation Sans","color":"#111"},
     "encoding":{"x":{"datum":29.26},"y":{"datum":-0.495}}},
    {"data":{"values":[{}]},"mark":{"type":"rule","strokeWidth":2,"color":"#000"},
     "encoding":{"x":{"datum":42.7},"x2":{"datum":45.5},"y":{"datum":-0.236}}},
    {"data":{"values":[{}]},"mark":{"type":"text","text":"Dark 4 days","align":"left","baseline":"alphabetic","fontSize":11,"font":"Liberation Sans","color":"#111"},
     "encoding":{"x":{"datum":41.4},"y":{"datum":-0.294}}}
   ]
  }
 ],"spacing":19.3,"bounds":"flush","resolve":{"scale":{"x":"independent","y":"independent"}}}
],"spacing":367,"bounds":"flush","resolve":{"scale":{"x":"independent","y":"independent"}}},
{"vconcat":[
 {"width":169.4,"height":205,
  "title":{"text":"C","anchor":"start","frame":"group","dx":-164,"dy":6,"offset":0,"fontSize":18.5,"font":"Liberation Sans","fontWeight":"bold","color":"#000"},
  "data":{"values":[
   {"t":"Transcription, DNA-templated","p":11.1},
   {"t":"Positive regulation of transcription, DNA-templated","p":3.15},
   {"t":"Response to osmotic stress","p":2.56},
   {"t":"Response to far red light","p":1.89},
   {"t":"Negative regulation of flower development","p":1.89},
   {"t":"Regulation of transcription, DNA-templated","p":14.17}]},
  "mark":{"type":"bar","fill":"#548235"},
  "encoding":{
   "y":{"field":"t","type":"nominal","sort":null,"scale":{"paddingInner":0.64,"paddingOuter":0.3797,"align":0.5786},
        "axis":{"title":null,"tickBand":"extent","tickSize":4,"tickColor":"#333","domainColor":"#333","labelFont":"Liberation Serif","labelFontWeight":"bold","labelFontSize":12,"labelColor":"#111","labelLimit":300,"labelLineHeight":14,
                "labelAlign":{"condition":{"test":"indexof(['Positive regulation of transcription, DNA-templated','Negative regulation of flower development','Regulation of transcription, DNA-templated'], datum.value) >= 0","value":"center"},"value":"right"},
                "labelOffset":{"condition":{"test":"indexof(['Positive regulation of transcription, DNA-templated','Negative regulation of flower development','Regulation of transcription, DNA-templated'], datum.value) >= 0","value":-7},"value":0},
                "labelPadding":{"condition":[{"test":"datum.value == 'Positive regulation of transcription, DNA-templated'","value":96.5},{"test":"datum.value == 'Negative regulation of flower development'","value":79.5},{"test":"datum.value == 'Regulation of transcription, DNA-templated'","value":92.5}],"value":5},
                "labelExpr":"datum.value == 'Positive regulation of transcription, DNA-templated' ? ['Positive regulation of transcription,', 'DNA-templated'] : datum.value == 'Negative regulation of flower development' ? ['Negative regulation of flower', 'development'] : datum.value == 'Regulation of transcription, DNA-templated' ? ['Regulation of transcription, DNA-', 'templated'] : datum.value"}},
   "x":{"field":"p","type":"quantitative","scale":{"domain":[0,20],"nice":false},
        "axis":{"values":[0,10,20],"title":"Percentage (%)","titleFont":"Liberation Serif","titleFontWeight":"bold","titleFontSize":12,"titleColor":"#111","titleX":60.7,"titleAlign":"center","titlePadding":7,"labelFont":"Liberation Serif","labelFontWeight":"bold","labelFontSize":12,"labelColor":"#111","labelPadding":4,"tickSize":4,"tickColor":"#333","domainColor":"#333"}}
  }
 },
 {"width":196.7,"height":240,
  "title":{"text":"D","anchor":"start","frame":"group","dx":-169,"dy":22.3,"offset":0,"fontSize":18.5,"font":"Liberation Sans","fontWeight":"bold","color":"#000"},
  "data":{"values":[
   {"t":"Response to cold","p":2.39},
   {"t":"Embryo development ending in seed dormancy","p":2.62},
   {"t":"Response to blue light","p":0.97},
   {"t":"Response to auxin","p":1.43},
   {"t":"Photosynthesis","p":3.16},
   {"t":"Response to far red light","p":0.78},
   {"t":"Response to red light","p":0.85},
   {"t":"Response to light stimulus","p":1.75}]},
  "mark":{"type":"bar","fill":"#fff2cc","stroke":"#000","strokeWidth":1},
  "encoding":{
   "y":{"field":"t","type":"nominal","sort":null,"scale":{"paddingInner":0.62,"paddingOuter":0.31},
        "axis":{"title":null,"tickBand":"extent","tickSize":4,"tickColor":"#333","domainColor":"#333","labelFont":"Liberation Serif","labelFontWeight":"bold","labelFontSize":12,"labelColor":"#111","labelLimit":300,"labelLineHeight":14,
                "labelAlign":{"condition":{"test":"datum.value == 'Embryo development ending in seed dormancy'","value":"center"},"value":"right"},
                "labelOffset":{"condition":{"test":"datum.value == 'Embryo development ending in seed dormancy'","value":-7},"value":0},
                "labelPadding":{"condition":{"test":"datum.value == 'Embryo development ending in seed dormancy'","value":85.5},"value":5},
                "labelExpr":"datum.value == 'Embryo development ending in seed dormancy' ? ['Embryo development ending in', 'seed dormancy'] : datum.value"}},
   "x":{"field":"p","type":"quantitative","scale":{"domain":[0,4],"nice":false},
        "axis":{"values":[0,1,2,3,4],"title":"Percentage (%)","titleFont":"Liberation Serif","titleFontWeight":"bold","titleFontSize":12,"titleColor":"#111","titleX":79.3,"titleAlign":"center","titlePadding":8,"labelFont":"Liberation Serif","labelFontWeight":"bold","labelFontSize":12,"labelColor":"#111","labelPadding":7,"tickSize":4,"tickColor":"#333","domainColor":"#333"}}
  }
 }
],"spacing":136.7,"bounds":"flush","resolve":{"scale":{"x":"independent","y":"independent"}}}
],
"spacing":528.3,
"bounds":"flush",
"resolve":{"scale":{"x":"independent","y":"independent"}}
}
